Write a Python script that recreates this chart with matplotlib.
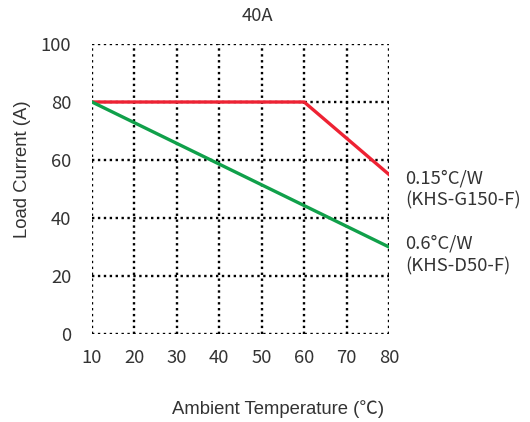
import matplotlib.pyplot as plt

temps_g150 = [10, 60, 80]
load_g150 = [80, 80, 55]
temps_d50 = [10, 80]
load_d50 = [80, 30]
x_ticks = [10, 20, 30, 40, 50, 60, 70, 80]
y_ticks = [0, 20, 40, 60, 80, 100]

cjk = ['Noto Sans CJK SC', 'DejaVu Sans']
arial = ['Liberation Sans', 'Noto Sans CJK SC']
fs = 13.3
ink = '#333333'


def main():
    fig = plt.figure(figsize=(5.3, 4.22), dpi=100)
    ax = fig.add_axes([0.1736, 0.2085, 0.5604, 0.6872])

    dots = (0, (1, 1.5))
    for x in x_ticks:
        ax.axvline(x, color='black', lw=1.7, ls=dots, zorder=1)
    for y in y_ticks:
        ax.axhline(y, color='black', lw=1.7, ls=dots, zorder=1)

    ax.plot(temps_g150, load_g150, color='#ee2233', lw=2.4, zorder=3)
    ax.plot(temps_d50, load_d50, color='#10a04a', lw=2.4, zorder=3)

    ax.set_xlim(10, 80)
    ax.set_ylim(0, 100)
    ax.set_xticks(x_ticks)
    ax.set_yticks(y_ticks)
    for s in ax.spines.values():
        s.set_visible(False)
    ax.tick_params(length=0, labelsize=fs, colors=ink, pad=11)
    ax.tick_params(axis='y', pad=15)
    for lab in ax.get_xticklabels() + ax.get_yticklabels():
        lab.set_family(cjk)

    fig.text(0.485, 0.963, '40A', ha='center', va='center', fontsize=fs,
             family=cjk, color=ink)
    fig.text(0.042, 0.60, 'Load Current (A)', rotation=90, ha='center',
             va='center', fontsize=fs, family=arial, color=ink)
    fig.text(0.524, 0.030, 'Ambient Temperature (℃)', ha='center',
             va='center', fontsize=fs, family=arial, color=ink)

    fig.text(0.764, 0.578, '0.15°C/W', ha='left', va='center', fontsize=fs,
             family=cjk, color=ink)
    fig.text(0.764, 0.524, '(KHS-G150-F)', ha='left', va='center',
             fontsize=fs, family=cjk, color=ink)
    fig.text(0.764, 0.424, '0.6°C/W', ha='left', va='center', fontsize=fs,
             family=cjk, color=ink)
    fig.text(0.764, 0.368, '(KHS-D50-F)', ha='left', va='center',
             fontsize=fs, family=cjk, color=ink)

    fig.savefig('out.png', dpi=100)


if __name__ == "__main__":
    main()
